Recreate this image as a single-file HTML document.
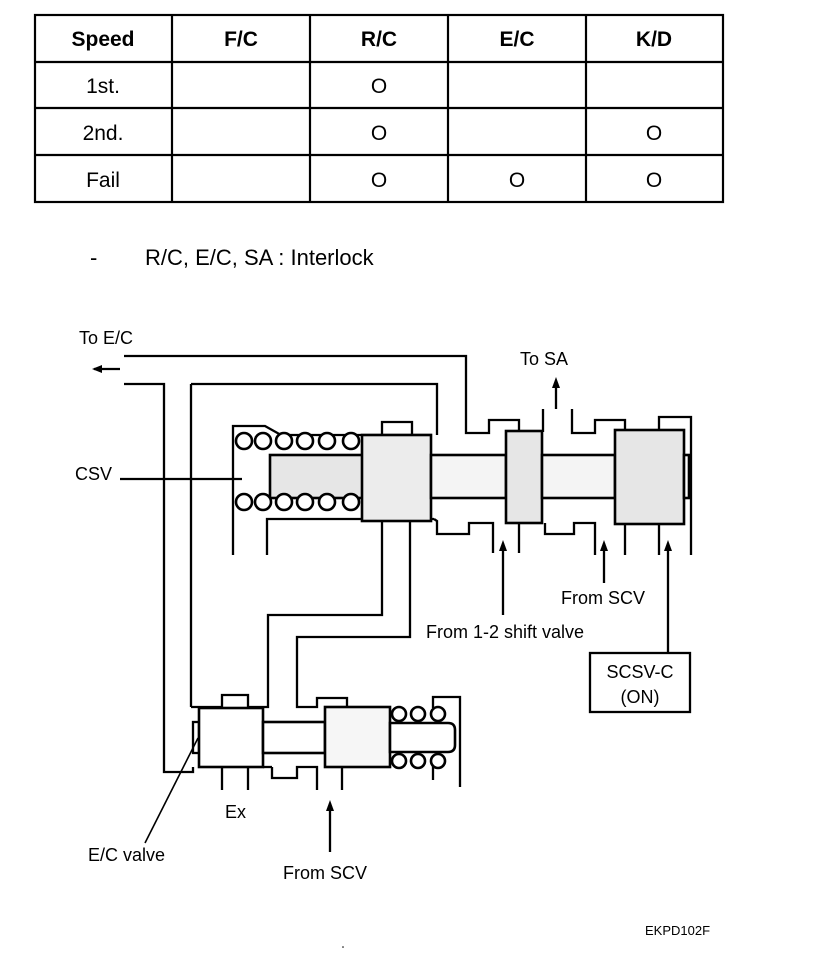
<!DOCTYPE html>
<html><head><style>
html,body{margin:0;padding:0;background:#fff;}
svg{display:block;}
text{font-family:"Liberation Sans",sans-serif;fill:#000;}
</style></head><body>
<svg width="816" height="964" viewBox="0 0 816 964" xmlns="http://www.w3.org/2000/svg">
<g stroke="#000" stroke-width="2.2" fill="none">
<rect x="35" y="15" width="688" height="187"/>
<line x1="35" y1="62" x2="723" y2="62"/>
<line x1="35" y1="108" x2="723" y2="108"/>
<line x1="35" y1="155" x2="723" y2="155"/>
<line x1="172" y1="15" x2="172" y2="202"/>
<line x1="310" y1="15" x2="310" y2="202"/>
<line x1="448" y1="15" x2="448" y2="202"/>
<line x1="586" y1="15" x2="586" y2="202"/>
</g>
<g font-size="21" text-anchor="middle">
<text x="103" y="46" font-weight="bold">Speed</text>
<text x="241" y="46" font-weight="bold">F/C</text>
<text x="379" y="46" font-weight="bold">R/C</text>
<text x="517" y="46" font-weight="bold">E/C</text>
<text x="654" y="46" font-weight="bold">K/D</text>
<text x="103" y="93">1st.</text>
<text x="103" y="140">2nd.</text>
<text x="103" y="187">Fail</text>
<text x="379" y="93">O</text>
<text x="379" y="140">O</text>
<text x="654" y="140">O</text>
<text x="379" y="187">O</text>
<text x="517" y="187">O</text>
<text x="654" y="187">O</text>
</g>
<text x="90" y="265" font-size="22">-</text>
<text x="145" y="265" font-size="22">R/C, E/C, SA : Interlock</text>

<g font-size="18">
<text x="79" y="344">To E/C</text>
<text x="520" y="365">To SA</text>
<text x="75" y="480">CSV</text>
<text x="561" y="604">From SCV</text>
<text x="426" y="638">From 1-2 shift valve</text>
<text x="640" y="678" text-anchor="middle">SCSV-C</text>
<text x="640" y="703" text-anchor="middle">(ON)</text>
<text x="225" y="818">Ex</text>
<text x="88" y="861">E/C valve</text>
<text x="283" y="879">From SCV</text>
</g>
<text x="645" y="935" font-size="13">EKPD102F</text>
<circle cx="343" cy="947" r="0.8" fill="#000"/>

<g stroke="#000" stroke-width="2.3" fill="none">
<polyline points="124,356 466,356 466,433 489,433 489,420 519,420 519,432"/>
<line x1="94" y1="369" x2="120" y2="369"/>
<polyline points="124,384 164,384 164,772 193,772 193,767"/>
<polyline points="191,384 437,384 437,435"/>
<line x1="191" y1="384" x2="191" y2="707"/>
<polyline points="233,555 233,426 265,426 281,435 432,435"/>
<polyline points="382,435 382,422 412,422 412,435"/>
<line x1="543" y1="409" x2="543" y2="432"/>
<polyline points="572,409 572,433 595,433 595,420 625,420 625,431"/>
<polyline points="659,431 659,417 691,417 691,555"/>
<polyline points="267,555 267,519 434,519"/>
<polyline points="434,519 437,521 437,534 469,534 469,523 493,523 493,553"/>
<line x1="519" y1="523" x2="519" y2="553"/>
<polyline points="545,523 545,534 574,534 574,523 595,523 595,555"/>
<line x1="625" y1="524" x2="625" y2="555"/>
<line x1="659" y1="524" x2="659" y2="555"/>
<line x1="120" y1="479" x2="242" y2="479"/>
<polyline points="382,521 382,615 268,615 268,707 248,707 248,695 222,695 222,707 191,707"/>
<polyline points="410,521 410,637 297,637 297,707 317,707 317,698 347,698 347,707"/>
<line x1="556" y1="409" x2="556" y2="385"/>
</g>
<polygon points="556,377 552,388 560,388" fill="#000"/>
<polygon points="92,369 102,365 102,373" fill="#000"/>

<g stroke="#000" stroke-width="2.6">
<rect x="270" y="455" width="93" height="43" fill="#e6e6e6"/>
<rect x="362" y="435" width="69" height="86" fill="#ececec"/>
<rect x="431" y="455" width="75" height="43" fill="#f4f4f4"/>
<rect x="506" y="431" width="36" height="92" fill="#e6e6e6"/>
<rect x="542" y="455" width="73" height="43" fill="#f4f4f4"/>
<rect x="615" y="430" width="69" height="94" fill="#e6e6e6"/>
<rect x="684" y="455" width="5" height="43" fill="#fff"/>
</g>
<g stroke="#000" stroke-width="2.6" fill="#fff">
<circle cx="244" cy="441" r="8"/><circle cx="263" cy="441" r="8"/><circle cx="284" cy="441" r="8"/><circle cx="305" cy="441" r="8"/><circle cx="327" cy="441" r="8"/><circle cx="351" cy="441" r="8"/>
<circle cx="244" cy="502" r="8"/><circle cx="263" cy="502" r="8"/><circle cx="284" cy="502" r="8"/><circle cx="305" cy="502" r="8"/><circle cx="327" cy="502" r="8"/><circle cx="351" cy="502" r="8"/>
</g>
<g stroke="#000" stroke-width="2.3">
<line x1="503" y1="548" x2="503" y2="615"/>
<line x1="604" y1="548" x2="604" y2="583"/>
<line x1="668" y1="548" x2="668" y2="653"/>
<line x1="330" y1="808" x2="330" y2="852"/>
<line x1="198" y1="738" x2="145" y2="843" stroke-width="1.6"/>
</g>
<g fill="#000">
<polygon points="503,540 499,551 507,551"/>
<polygon points="604,540 600,551 608,551"/>
<polygon points="668,540 664,551 672,551"/>
<polygon points="330,800 326,811 334,811"/>
</g>
<rect x="590" y="653" width="100" height="59" fill="none" stroke="#000" stroke-width="2.3"/>

<g stroke="#000" stroke-width="2.3" fill="none">
<polyline points="433,708 433,697 460,697 460,787"/>
<rect x="193" y="722" width="6" height="31"/>
<line x1="222" y1="767" x2="222" y2="790"/>
<line x1="248" y1="767" x2="248" y2="790"/>
<polyline points="272,767 272,778 297,778 297,767 317,767 317,790"/>
<line x1="342" y1="767" x2="342" y2="790"/>
<line x1="433" y1="760" x2="433" y2="780"/>
<line x1="263" y1="767" x2="272" y2="767"/>
</g>
<g stroke="#000" stroke-width="2.6" fill="#fff">
<rect x="199" y="708" width="64" height="59"/>
<rect x="263" y="722" width="62" height="31"/>
<rect x="325" y="707" width="65" height="60" fill="#f6f6f6"/>
<path d="M390,723 H448 Q455,723 455,730 V745 Q455,752 448,752 H390 Z"/>
<circle cx="399" cy="714" r="7"/><circle cx="418" cy="714" r="7"/><circle cx="438" cy="714" r="7"/>
<circle cx="399" cy="761" r="7"/><circle cx="418" cy="761" r="7"/><circle cx="438" cy="761" r="7"/>
</g>
</svg>
</body></html>
